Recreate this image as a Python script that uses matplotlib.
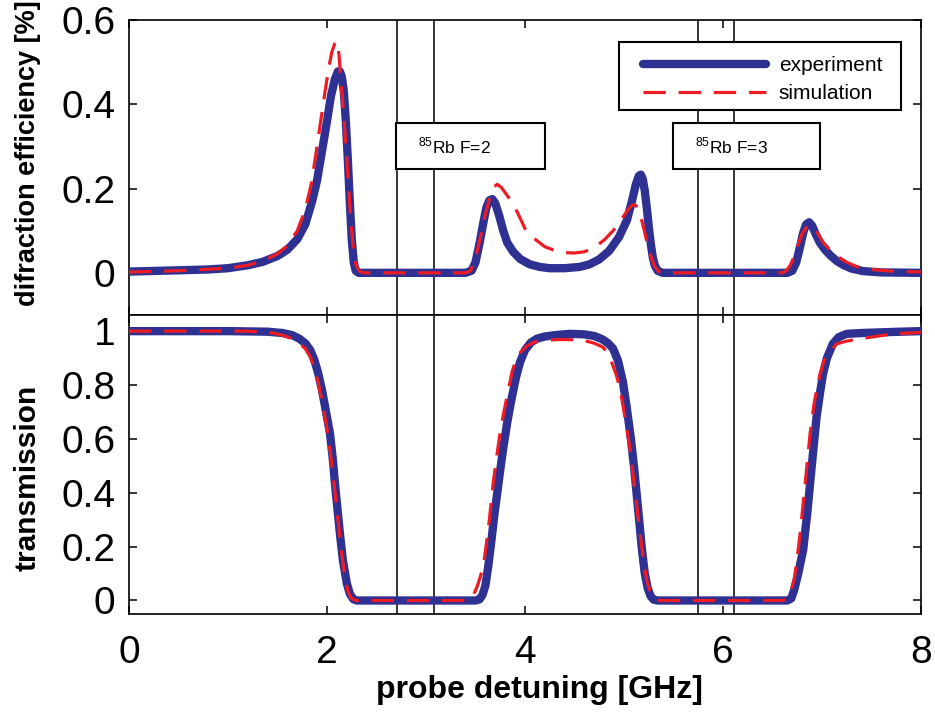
import matplotlib
matplotlib.use("Agg")
import matplotlib.pyplot as plt
from matplotlib.patches import Rectangle

plt.rcParams['font.family'] = ['Liberation Sans', 'DejaVu Sans']
plt.rcParams['mathtext.fontset'] = 'custom'
plt.rcParams['mathtext.rm'] = 'Liberation Sans'

# ---- data ----
diff_exp_x = [0.0, 0.5, 0.8, 1.0, 1.2, 1.35, 1.5, 1.6, 1.7, 1.78, 1.85, 1.9, 1.95, 2.0, 2.04, 2.08, 2.11, 2.13, 2.15,
              2.17, 2.19, 2.21, 2.23, 2.25, 2.27, 2.29, 2.32, 2.6, 3.0, 3.4,
              3.46, 3.5, 3.545, 3.58, 3.61, 3.64, 3.67, 3.70, 3.74, 3.78, 3.82, 3.88, 3.95, 4.05, 4.15, 4.25, 4.4,
              4.55, 4.65, 4.75, 4.85, 4.95, 5.03, 5.08, 5.12, 5.15, 5.17, 5.19, 5.21, 5.23, 5.25, 5.27, 5.29, 5.31,
              5.34, 5.39, 6.0, 6.65, 6.7, 6.74, 6.78, 6.81, 6.84, 6.87, 6.9, 6.94, 6.98, 7.03, 7.09, 7.15, 7.22,
              7.3, 7.42, 7.6, 8.0]
diff_exp_y = [0.003, 0.006, 0.008, 0.011, 0.018, 0.026, 0.04, 0.055, 0.08, 0.115, 0.17, 0.22, 0.29, 0.36, 0.42, 0.46,
              0.478, 0.478, 0.465, 0.43, 0.36, 0.27, 0.17, 0.08, 0.025, 0.005, 0.0, 0.0, 0.0, 0.0,
              0.005, 0.025, 0.075, 0.12, 0.155, 0.172, 0.175, 0.165, 0.135, 0.1, 0.072, 0.05, 0.033, 0.02, 0.014,
              0.011, 0.011, 0.014, 0.02, 0.032, 0.052, 0.085, 0.125, 0.17, 0.21, 0.23, 0.233, 0.222, 0.195, 0.155,
              0.11, 0.07, 0.038, 0.018, 0.005, 0.0, 0.0, 0.0, 0.005, 0.025, 0.063, 0.095, 0.115, 0.12, 0.112, 0.09,
              0.071, 0.055, 0.04, 0.028, 0.018, 0.01, 0.004, 0.001, 0.0]

diff_sim_x = [0.0, 0.5, 1.0, 1.2, 1.35, 1.5, 1.6, 1.7, 1.78, 1.84, 1.88, 1.93, 1.98, 2.02, 2.05, 2.08, 2.1, 2.12, 2.14,
              2.17, 2.2, 2.23, 2.26, 2.29, 2.33, 2.38, 3.4,
              3.45, 3.5, 3.55, 3.6, 3.65, 3.69, 3.72, 3.76, 3.8, 3.85, 3.92, 4.0, 4.09, 4.2, 4.3, 4.4, 4.5, 4.6, 4.7,
              4.8, 4.89, 4.97, 5.04, 5.09, 5.12, 5.15, 5.19, 5.23, 5.27, 5.31, 5.35, 5.4,
              6.6, 6.64, 6.68, 6.72, 6.76, 6.8, 6.85, 6.895, 6.93, 6.97, 7.01, 7.07, 7.15, 7.25, 7.35, 7.5, 7.7, 8.0]
diff_sim_y = [0.002, 0.005, 0.011, 0.018, 0.028, 0.045, 0.065, 0.1, 0.15, 0.21, 0.27, 0.35, 0.43, 0.49, 0.525, 0.545,
              0.55, 0.52, 0.46, 0.37, 0.27, 0.16, 0.07, 0.02, 0.003, 0.0, 0.0,
              0.005, 0.035, 0.085, 0.14, 0.183, 0.205, 0.21, 0.203, 0.19, 0.174, 0.145, 0.105, 0.082, 0.062, 0.053,
              0.048, 0.047, 0.05, 0.06, 0.078, 0.1, 0.125, 0.15, 0.162, 0.16, 0.148, 0.115, 0.075, 0.04, 0.015,
              0.003, 0.0,
              0.0, 0.005, 0.018, 0.04, 0.068, 0.093, 0.11, 0.114, 0.105, 0.088, 0.073, 0.057, 0.04, 0.025, 0.015,
              0.008, 0.004, 0.002]

tr_exp_x = [0.0, 1.0, 1.4, 1.55, 1.65, 1.72, 1.78, 1.83, 1.87, 1.91, 1.95, 1.99, 2.03, 2.06, 2.08, 2.1, 2.13, 2.16,
            2.2, 2.23, 2.265, 2.3, 3.5,
            3.54, 3.57, 3.6, 3.63, 3.66, 3.69, 3.72, 3.75, 3.78, 3.82, 3.865, 3.91, 3.95, 4.0, 4.06, 4.12, 4.2, 4.3,
            4.45, 4.6, 4.7, 4.78, 4.84, 4.89, 4.94, 4.99, 5.03, 5.07, 5.1, 5.14, 5.18, 5.21, 5.24, 5.27, 5.3, 5.34,
            6.65, 6.69, 6.72, 6.76, 6.81, 6.85, 6.88, 6.91, 6.945, 6.98, 7.01, 7.05, 7.11, 7.17, 7.25, 7.4, 7.55,
            7.8, 8.0]
tr_exp_y = [1.0, 1.0, 0.998, 0.993, 0.985, 0.972, 0.955, 0.93, 0.895, 0.845, 0.78, 0.70, 0.62, 0.52, 0.435, 0.36,
            0.25, 0.15, 0.064, 0.025, 0.005, 0.0, 0.0,
            0.004, 0.02, 0.055, 0.13, 0.22, 0.317, 0.4, 0.485, 0.565, 0.66, 0.75, 0.83, 0.885, 0.93, 0.958, 0.972,
            0.98, 0.985, 0.99, 0.988, 0.982, 0.97, 0.955, 0.935, 0.89, 0.81, 0.71, 0.6, 0.5, 0.35, 0.194, 0.1,
            0.045, 0.015, 0.003, 0.0,
            0.0, 0.008, 0.04, 0.1, 0.188, 0.32, 0.435, 0.55, 0.68, 0.77, 0.84, 0.9, 0.953, 0.978, 0.99, 0.993,
            0.995, 0.998, 1.0]

tr_sim_x = [0.0, 1.2, 1.45, 1.55, 1.65, 1.72, 1.78, 1.83, 1.87, 1.91, 1.95, 1.99, 2.03, 2.06, 2.09, 2.12, 2.15, 2.18,
            2.21, 2.24, 2.28, 2.32, 3.4,
            3.44, 3.48, 3.52, 3.55, 3.58, 3.61, 3.64, 3.68, 3.72, 3.75, 3.78, 3.82, 3.87, 3.91, 3.95, 4.02, 4.1,
            4.2, 4.35, 4.5, 4.6, 4.7, 4.79, 4.84, 4.88, 4.92, 4.96, 5.01, 5.06, 5.11, 5.16, 5.2, 5.23, 5.26, 5.29,
            5.32, 5.36,
            6.6, 6.64, 6.68, 6.72, 6.75, 6.78, 6.81, 6.84, 6.88, 6.92, 6.95, 6.98, 7.02, 7.07, 7.15, 7.25, 7.35,
            7.5, 7.72, 8.0]
tr_sim_y = [1.0, 1.0, 0.993, 0.985, 0.972, 0.955, 0.935, 0.905, 0.865, 0.81, 0.74, 0.66, 0.56, 0.47, 0.37, 0.27,
            0.17, 0.09, 0.035, 0.01, 0.001, 0.0, 0.0,
            0.004, 0.02, 0.055, 0.09, 0.13, 0.21, 0.3, 0.44, 0.55, 0.625, 0.688, 0.76, 0.85, 0.895, 0.92, 0.945,
            0.96, 0.966, 0.969, 0.968, 0.965, 0.955, 0.94, 0.915, 0.88, 0.84, 0.787, 0.68, 0.565, 0.41, 0.256,
            0.14, 0.075, 0.038, 0.012, 0.003, 0.0,
            0.0, 0.006, 0.027, 0.08, 0.16, 0.25, 0.36, 0.47, 0.62, 0.73, 0.79, 0.84, 0.89, 0.92, 0.953, 0.963,
            0.97, 0.978, 0.99, 0.995]

vlines_x = [2.71, 3.08, 5.75, 6.11]
box_labels = [r'$^{85}$Rb F=2', r'$^{85}$Rb F=3']
series_names = ['experiment', 'simulation']
xticks = [0, 2, 4, 6, 8]
top_yticks = [0, 0.2, 0.4, 0.6]
bot_yticks = [0, 0.2, 0.4, 0.6, 0.8, 1]

BLUE = '#2e3192'
RED = '#ed1c24'

fig = plt.figure(figsize=(9.35, 7.17), dpi=100)
ax1 = fig.add_axes([0.138, 0.5607, 0.847, 0.4114])
ax2 = fig.add_axes([0.138, 0.1437, 0.847, 0.417])

TICKFS = 28
for ax in (ax1, ax2):
    for xv in vlines_x:
        ax.axvline(xv, color='black', lw=1.1, zorder=1)
    ax.set_xlim(0, 8)
    ax.set_xticks(xticks)
    ax.tick_params(direction='in', top=True, right=True, length=6, width=1.1,
                   labelsize=TICKFS, pad=10)
    for s in ax.spines.values():
        s.set_linewidth(1.2)

ax1.plot(diff_exp_x, diff_exp_y, color=BLUE, lw=6, solid_capstyle='round', solid_joinstyle='round',
         label=series_names[0], zorder=3)
ax1.plot(diff_sim_x, diff_sim_y, color=RED, lw=2.3, dashes=(7, 4), label=series_names[1], zorder=4)
ax2.plot(tr_exp_x, tr_exp_y, color=BLUE, lw=6, solid_capstyle='round', solid_joinstyle='round', zorder=3)
ax2.plot(tr_sim_x, tr_sim_y, color=RED, lw=2.3, dashes=(7, 4), zorder=4)

ax1.set_ylim(-0.1, 0.6)
ax1.set_yticks(top_yticks)
ax1.set_yticklabels(['0', '0.2', '0.4', '0.6'])
ax1.tick_params(labelbottom=False)
ax2.set_ylim(-0.05, 1.06)
ax2.set_yticks(bot_yticks)
ax2.set_yticklabels(['0', '0.2', '0.4', '0.6', '0.8', '1'])
ax2.set_xticklabels([str(v) for v in xticks])
ax2.tick_params(axis='x', pad=15)

# legend frame drawn as a rectangle, legend itself frameless
ax1.add_patch(Rectangle((0.619, 0.695), 0.975 - 0.619, 0.925 - 0.695, transform=ax1.transAxes,
                        facecolor='white', edgecolor='black', lw=1.5, zorder=8))
leg = ax1.legend(loc='upper left', bbox_to_anchor=(0.649, 0.878), fontsize=15, frameon=False,
                 handlelength=5.9, handletextpad=0.62, borderpad=0, labelspacing=0.45,
                 borderaxespad=0)
leg.set_zorder(10)

# label boxes
box_pos = [(0.337, 0.525), (0.687, 0.872)]
for (x0, x1), lab in zip(box_pos, box_labels):
    ax1.add_patch(Rectangle((x0, 0.495), x1 - x0, 0.156, transform=ax1.transAxes,
                            facecolor='white', edgecolor='black', lw=1.5, zorder=6))
    ax1.text(x0 + 0.028, 0.573, lab, transform=ax1.transAxes, fontsize=12.5, va='center', ha='left', zorder=7)

ax1.set_ylabel('difraction efficiency [%]', fontsize=19.5, fontweight='bold')
ax1.yaxis.set_label_coords(-0.1275, 0.549)
ax1.yaxis.label.set_va('center')
ax2.set_ylabel('transmission', fontsize=21.5, fontweight='bold')
ax2.yaxis.set_label_coords(-0.1275, 0.4565)
ax2.yaxis.label.set_va('center')
ax2.set_xlabel('probe detuning [GHz]', fontsize=23, fontweight='bold')
ax2.xaxis.set_label_coords(0.518, -0.254)
ax2.xaxis.label.set_va('center')

fig.savefig('out.png', dpi=100)
